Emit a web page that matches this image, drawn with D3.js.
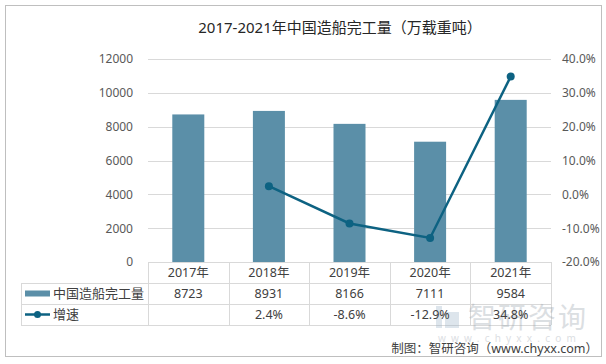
<!DOCTYPE html>
<html>
<head>
<meta charset="utf-8">
<script src="https://cdn.jsdelivr.net/npm/d3@7"></script>
<style>
body { margin: 0; background: #fff; }
text { font-family: "Noto Sans", "Noto Sans CJK SC", sans-serif; }
</style>
</head>
<body>
<script>
var years = ["2017年", "2018年", "2019年", "2020年", "2021年"];
var output = [8723, 8931, 8166, 7111, 9584];
var growth = [null, 2.4, -8.6, -12.9, 34.8];
var growthLabels = ["", "2.4%", "-8.6%", "-12.9%", "34.8%"];
var leftTicks = [0, 2000, 4000, 6000, 8000, 10000, 12000];
var rightTicks = [-20, -10, 0, 10, 20, 30, 40];

var width = 606, height = 364;
var plotLeft = 148, plotRight = 551, plotTop = 59, plotBottom = 262;
var barColor = "#5b8fa8", lineColor = "#0d6282";

var svg = d3.select("body").append("svg")
    .attr("width", width)
    .attr("height", height);

// outer frame
svg.append("rect")
    .attr("x", 5.5).attr("y", 5.5)
    .attr("width", 596).attr("height", 351)
    .attr("fill", "#fff")
    .attr("stroke", "#bfbfbf");

svg.append("text")
    .attr("x", 340).attr("y", 33)
    .attr("text-anchor", "middle")
    .attr("font-size", 15)
    .attr("fill", "#262626")
    .text("2017-2021年中国造船完工量（万载重吨）");

var x = d3.scaleBand().domain(years).range([plotLeft, plotRight]);
var y = d3.scaleLinear().domain([0, 12000]).range([plotBottom, plotTop]);
var y2 = d3.scaleLinear().domain([-20, 40]).range([plotBottom, plotTop]);

// gridlines
svg.append("g").selectAll("line")
    .data(leftTicks.slice(1))
    .enter().append("line")
    .attr("x1", plotLeft).attr("x2", plotRight)
    .attr("y1", function(d){ return Math.round(y(d)) + 0.5; })
    .attr("y2", function(d){ return Math.round(y(d)) + 0.5; })
    .attr("stroke", "#d9d9d9");

var leftAxis = d3.axisLeft(y).tickValues(leftTicks).tickSize(0).tickPadding(15)
    .tickFormat(d3.format("d"));
svg.append("g")
    .attr("transform", "translate(" + plotLeft + ",0)")
    .call(leftAxis)
    .call(function(g){ g.select(".domain").remove(); })
    .selectAll("text")
    .attr("font-size", 12).attr("fill", "#595959");

var rightAxis = d3.axisRight(y2).tickValues(rightTicks).tickSize(0).tickPadding(11)
    .tickFormat(function(d){ return d.toFixed(1) + "%"; });
svg.append("g")
    .attr("transform", "translate(" + plotRight + ",0)")
    .call(rightAxis)
    .call(function(g){ g.select(".domain").remove(); })
    .selectAll("text")
    .attr("font-size", 12).attr("fill", "#595959");

// bars
var bw = 32;
svg.append("g").selectAll("rect")
    .data(output)
    .enter().append("rect")
    .attr("x", function(d, i){ return x(years[i]) + x.bandwidth() / 2 - bw / 2; })
    .attr("y", function(d){ return y(d); })
    .attr("width", bw)
    .attr("height", function(d){ return y(0) - y(d); })
    .attr("fill", barColor);

// line
var pts = growth.map(function(d, i){ return { v: d, c: years[i] }; })
    .filter(function(p){ return p.v !== null; });
var line = d3.line()
    .x(function(p){ return x(p.c) + x.bandwidth() / 2; })
    .y(function(p){ return y2(p.v); });
svg.append("path")
    .datum(pts)
    .attr("d", line)
    .attr("fill", "none")
    .attr("stroke", lineColor)
    .attr("stroke-width", 2.5);
svg.append("g").selectAll("circle")
    .data(pts)
    .enter().append("circle")
    .attr("cx", function(p){ return x(p.c) + x.bandwidth() / 2; })
    .attr("cy", function(p){ return y2(p.v); })
    .attr("r", 4)
    .attr("fill", lineColor);

// data table
var rowY = [262, 283, 304, 325];
var tableLeft = 21;
var tg = svg.append("g").attr("stroke", "#d9d9d9").attr("shape-rendering", "crispEdges");
tg.append("line").attr("x1", plotLeft).attr("x2", plotRight).attr("y1", rowY[0] + 0.5).attr("y2", rowY[0] + 0.5);
[1, 2, 3].forEach(function(r){
    tg.append("line").attr("x1", tableLeft).attr("x2", plotRight)
        .attr("y1", rowY[r] + 0.5).attr("y2", rowY[r] + 0.5);
});
tg.append("line").attr("x1", tableLeft + 0.5).attr("x2", tableLeft + 0.5)
    .attr("y1", rowY[1]).attr("y2", rowY[3]);
years.forEach(function(c){
    tg.append("line").attr("x1", x(c) + 0.5).attr("x2", x(c) + 0.5)
        .attr("y1", rowY[0]).attr("y2", rowY[3]);
});
tg.append("line").attr("x1", plotRight + 0.5).attr("x2", plotRight + 0.5)
    .attr("y1", rowY[0]).attr("y2", rowY[3]);

// watermark (drawn under the table text)
var wm = svg.append("g").attr("opacity", 0.35);
wm.append("rect").attr("x", 436).attr("y", 306).attr("width", 6).attr("height", 22).attr("fill", "#9fb6c9");
wm.append("rect").attr("x", 445).attr("y", 312).attr("width", 14).attr("height", 16).attr("fill", "#9fb6c9");
wm.append("text")
    .attr("x", 468).attr("y", 328)
    .attr("font-size", 28).attr("fill", "#9aa4ad")
    .attr("letter-spacing", 2)
    .text("智研咨询");
wm.append("text")
    .attr("x", 438).attr("y", 342)
    .attr("font-size", 10).attr("fill", "#9aa4ad")
    .attr("letter-spacing", 5.2)
    .text("www.chyxx.com");

function rowText(vals, r){
    svg.append("g").selectAll("text")
        .data(vals)
        .enter().append("text")
        .attr("x", function(d, i){ return x(years[i]) + x.bandwidth() / 2; })
        .attr("y", (rowY[r] + rowY[r + 1]) / 2 + 4.5)
        .attr("text-anchor", "middle")
        .attr("font-size", 12.5)
        .attr("fill", "#404040")
        .text(function(d){ return d; });
}
rowText(years, 0);
rowText(output, 1);
rowText(growthLabels, 2);

// legend keys inside table
svg.append("rect")
    .attr("x", 25).attr("y", (rowY[1] + rowY[2]) / 2 - 3)
    .attr("width", 25).attr("height", 6)
    .attr("fill", barColor);
svg.append("text")
    .attr("x", 53).attr("y", (rowY[1] + rowY[2]) / 2 + 4.5)
    .attr("font-size", 13).attr("fill", "#404040")
    .text("中国造船完工量");
var ly = (rowY[2] + rowY[3]) / 2;
svg.append("line")
    .attr("x1", 25).attr("x2", 50).attr("y1", ly).attr("y2", ly)
    .attr("stroke", lineColor).attr("stroke-width", 2.5);
svg.append("circle").attr("cx", 37.5).attr("cy", ly).attr("r", 3.5).attr("fill", lineColor);
svg.append("text")
    .attr("x", 53).attr("y", ly + 4.5)
    .attr("font-size", 13).attr("fill", "#404040")
    .text("增速");

svg.append("text")
    .attr("x", 598).attr("y", 353)
    .attr("text-anchor", "end")
    .attr("font-size", 12.5).attr("fill", "#404040")
    .text("制图：智研咨询（www.chyxx.com）");
</script>
</body>
</html>
